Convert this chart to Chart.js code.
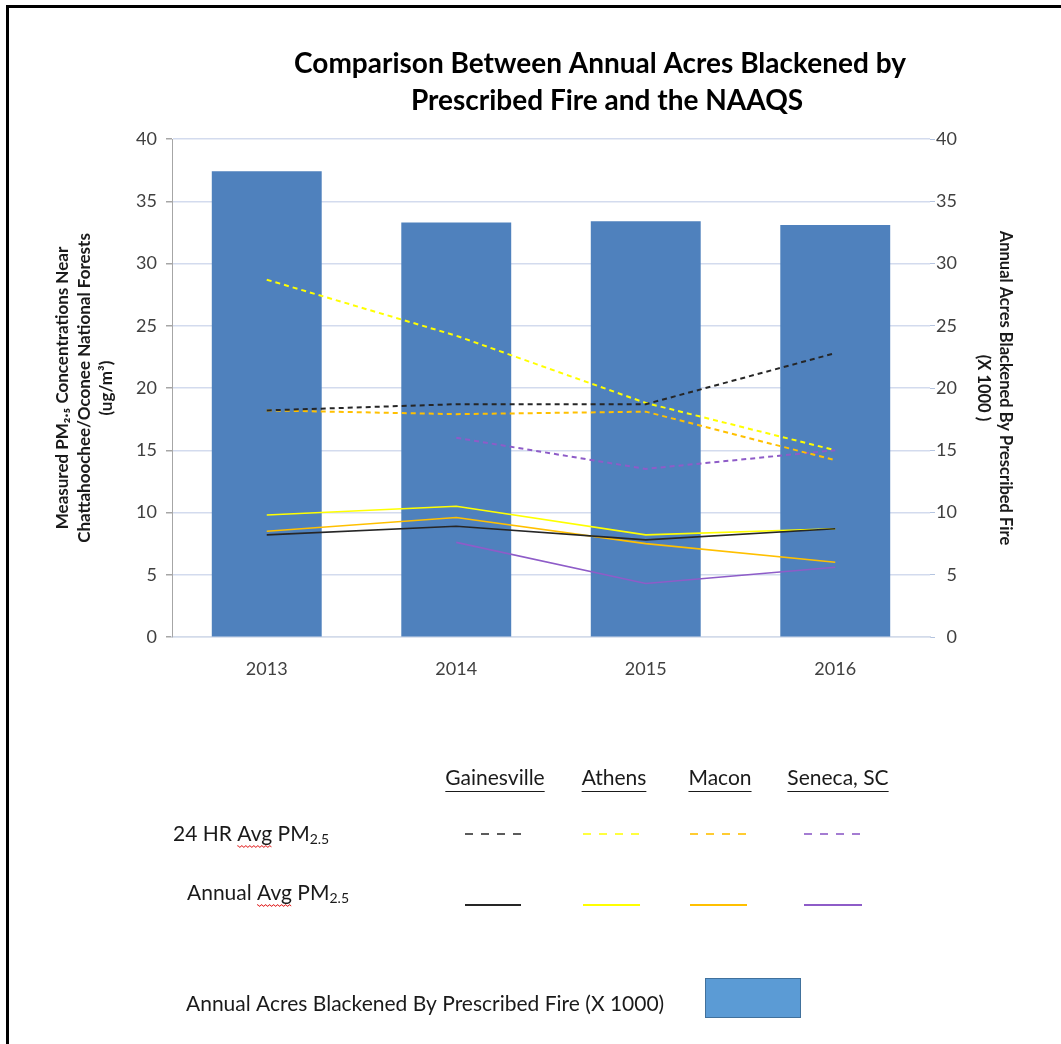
<!DOCTYPE html>
<html>
<head>
<meta charset="utf-8">
<title>Acres Blackened vs NAAQS</title>
<script src="https://cdn.jsdelivr.net/npm/chart.js@4.4.1/dist/chart.umd.min.js"></script>
<style>
  html, body { margin: 0; padding: 0; background: #fff; }
  #wrap { position: relative; width: 1061px; height: 1044px; overflow: hidden; }
  #wrap canvas { position: absolute; left: 0; top: 0; }
  #frame { position: absolute; left: 6px; top: 5px; right: -20px; bottom: -20px;
           border-left: 3px solid #000; border-top: 3px solid #000; pointer-events: none; }
</style>
</head>
<body>
<div id="wrap">
  <canvas id="chart" width="1061" height="1044"></canvas>
  <div id="frame"></div>
</div>
<script>
const years = ['2013', '2014', '2015', '2016'];
const cities = ['Gainesville', 'Athens', 'Macon', 'Seneca, SC'];

// acres blackened by prescribed fire, thousands
const acresBlackened = [37.4, 33.3, 33.4, 33.1];

// 24 hour average PM2.5 (ug/m3)
const gainesville24hr = [18.2, 18.7, 18.7, 22.8];
const athens24hr = [28.7, 24.2, 18.8, 15.0];
const macon24hr = [18.2, 17.9, 18.1, 14.2];
const seneca24hr = [null, 16.0, 13.5, 15.0];

// annual average PM2.5 (ug/m3)
const gainesvilleAnnual = [8.2, 8.9, 7.8, 8.7];
const athensAnnual = [9.8, 10.5, 8.2, 8.7];
const maconAnnual = [8.5, 9.6, 7.5, 6.0];
const senecaAnnual = [null, 7.6, 4.3, 5.6];

const axisTicks = [0, 5, 10, 15, 20, 25, 30, 35, 40];

const cityColors = ['#262626', '#ffff00', '#ffc000', '#8e5cc8'];
const FONT = 'Lato, Carlito, Calibri, sans-serif';

const dashed = (label, data, color) => ({
  type: 'line', label, data, yAxisID: 'y', order: 1,
  borderColor: color, borderWidth: 2, borderDash: [5, 4],
  pointRadius: 0, fill: false, tension: 0
});
const solid = (label, data, color) => ({
  type: 'line', label, data, yAxisID: 'y', order: 1,
  borderColor: color, borderWidth: 1.6,
  pointRadius: 0, fill: false, tension: 0
});

// title, the hand-laid legend key and the bar key
const pageText = {
  id: 'pageText',
  afterDraw(chart) {
    const ctx = chart.ctx;
    ctx.save();
    ctx.fillStyle = '#000';
    ctx.textBaseline = 'middle';
    ctx.textAlign = 'center';
    ctx.font = 'bold 28px ' + FONT;
    ctx.fillText('Comparison Between Annual Acres Blackened by', 600, 64);
    ctx.fillText('Prescribed Fire and the NAAQS', 607, 101);

    // column headers, underlined
    const colX = [495, 614, 720, 838];
    ctx.font = '21px ' + FONT;
    ctx.fillStyle = '#1a1a1a';
    ctx.strokeStyle = '#1a1a1a';
    ctx.lineWidth = 1;
    cities.forEach((c, i) => {
      ctx.fillText(c, colX[i], 778);
      const w = ctx.measureText(c).width;
      ctx.beginPath();
      ctx.moveTo(colX[i] - w / 2, 791.5);
      ctx.lineTo(colX[i] + w / 2, 791.5);
      ctx.stroke();
    });

    // row labels with subscripted 2.5
    const rowLabel = (pre, x, y) => {
      ctx.textAlign = 'left';
      ctx.font = '21px ' + FONT;
      ctx.fillStyle = '#1a1a1a';
      ctx.fillText(pre + 'PM', x, y);
      const w = ctx.measureText(pre + 'PM').width;
      ctx.font = '14px ' + FONT;
      ctx.fillText('2.5', x + w, y + 5);
      // spell-check squiggle under "Avg"
      ctx.font = '21px ' + FONT;
      const a0 = ctx.measureText(pre.replace('Avg ', '')).width;
      const aw = ctx.measureText('Avg').width;
      ctx.strokeStyle = '#e02020';
      ctx.lineWidth = 1;
      ctx.beginPath();
      for (let px = 0; px <= aw; px += 1) {
        const yy = y + 12 + (Math.floor(px / 2) % 2 ? 1.2 : -0.2);
        if (px === 0) ctx.moveTo(x + a0 + px, yy); else ctx.lineTo(x + a0 + px, yy);
      }
      ctx.stroke();
    };
    rowLabel('24 HR Avg ', 173, 834);
    rowLabel('Annual Avg ', 187, 893);

    // line samples
    const sampleX = [[465, 521], [583, 640], [690, 747], [804, 862]];
    sampleX.forEach(([x0, x1], i) => {
      ctx.strokeStyle = cityColors[i];
      ctx.lineWidth = 1.6;
      ctx.setLineDash([8, 8]);
      ctx.beginPath(); ctx.moveTo(x0, 834); ctx.lineTo(x1, 834); ctx.stroke();
      ctx.setLineDash([]);
      ctx.lineWidth = 2;
      ctx.beginPath(); ctx.moveTo(x0, 905); ctx.lineTo(x1, 905); ctx.stroke();
    });

    // bar key
    ctx.textAlign = 'left';
    ctx.font = '21px ' + FONT;
    ctx.fillStyle = '#1a1a1a';
    ctx.fillText('Annual Acres Blackened By Prescribed Fire (X 1000)', 186, 1004);
    ctx.fillStyle = '#5b9bd5';
    ctx.fillRect(705, 978, 95, 39);
    ctx.strokeStyle = '#41719c';
    ctx.lineWidth = 1;
    ctx.strokeRect(705.5, 978.5, 95, 39);
    ctx.restore();
  }
};

const tickFont = { family: FONT, size: 18 };
const setTicks = (scale) => { scale.ticks = axisTicks.map(v => ({ value: v })); };

new Chart(document.getElementById('chart'), {
  data: {
    labels: years,
    datasets: [
      dashed('Gainesville 24 HR Avg', gainesville24hr, cityColors[0]),
      dashed('Athens 24 HR Avg', athens24hr, cityColors[1]),
      dashed('Macon 24 HR Avg', macon24hr, cityColors[2]),
      dashed('Seneca, SC 24 HR Avg', seneca24hr, cityColors[3]),
      solid('Gainesville Annual Avg', gainesvilleAnnual, cityColors[0]),
      solid('Athens Annual Avg', athensAnnual, cityColors[1]),
      solid('Macon Annual Avg', maconAnnual, cityColors[2]),
      solid('Seneca, SC Annual Avg', senecaAnnual, cityColors[3]),
      {
        type: 'bar', label: 'Annual Acres Blackened By Prescribed Fire (X 1000)',
        data: acresBlackened, yAxisID: 'y2', order: 10,
        backgroundColor: '#4f81bd', borderWidth: 0,
        categoryPercentage: 1, barPercentage: 0.58
      }
    ]
  },
  options: {
    responsive: false,
    animation: false,
    layout: { padding: { top: 139, left: 10, right: 104, bottom: 347 } },
    plugins: { legend: { display: false }, title: { display: false }, tooltip: { enabled: false } },
    scales: {
      x: {
        afterFit: (s) => { s.height = 60; },
        grid: { display: false, drawTicks: false },
        border: { display: true, color: '#d3dbea', width: 1.5 },
        ticks: { color: '#404040', font: tickFont, padding: 21 }
      },
      y: {
        position: 'left', min: axisTicks[0], max: axisTicks[axisTicks.length - 1],
        afterBuildTicks: setTicks,
        afterFit: (s) => { s.width = 162; },
        grid: { color: '#d3dbee', lineWidth: 1.5, tickLength: 6, tickColor: '#a6a6a6' },
        border: { display: true, color: '#a6a6a6', width: 1 },
        ticks: { color: '#404040', font: tickFont, padding: 9 },
        title: {
          display: true,
          text: ['Measured PM\u2082.\u2085 Concentrations Near', 'Chattahoochee/Oconee National Forests', '(ug/m\u00b3)'],
          color: '#1a1a1a',
          font: { family: FONT, size: 17, weight: 'bold', lineHeight: 1.3 },
          padding: { top: 41, bottom: 0 }
        }
      },
      y2: {
        // narrow box so the labels line up on their right edge; title pushed outward
        position: 'right', min: axisTicks[0], max: axisTicks[axisTicks.length - 1],
        afterBuildTicks: setTicks,
        afterFit: (s) => { s.width = 27; },
        grid: { drawOnChartArea: false, tickLength: 5, tickColor: '#b4c4e0' },
        border: { display: false },
        ticks: { color: '#404040', font: tickFont, padding: 2, crossAlign: 'far' },
        title: {
          display: true,
          text: ['Annual Acres Blackened By Prescribed Fire', '(X 1000 )'],
          color: '#1a1a1a',
          font: { family: FONT, size: 16.5, weight: 'bold', lineHeight: 1.33 },
          padding: { top: -59, bottom: 0 }
        }
      }
    }
  },
  plugins: [pageText]
});
</script>
</body>
</html>
